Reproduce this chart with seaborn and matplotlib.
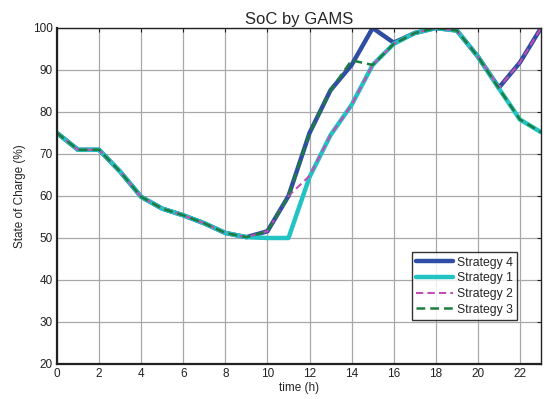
import matplotlib
matplotlib.use("Agg")
import matplotlib.pyplot as plt
import seaborn as sns
import pandas as pd

hours = list(range(24))
strategy4 = [75, 71, 71, 65.8, 59.8, 57, 55.4, 53.5, 51.2, 50.2, 51.6, 60, 75, 85.2, 91.2, 100, 96.5, 98.8, 100, 99.4, 93.2, 85.8, 91.8, 100]
strategy1 = [75, 71, 71, 65.8, 59.8, 57, 55.4, 53.5, 51.2, 50.2, 50, 50, 64.5, 74.5, 81.7, 91.2, 96.2, 98.8, 100, 99.4, 93.2, 85.6, 78.2, 75.2]
strategy2 = [75, 71, 71, 65.8, 59.8, 57, 55.4, 53.5, 51.2, 50.2, 51.6, 60, 64.8, 74.5, 81.7, 91.2, 96.2, 98.8, 100, 99.4, 93.2, 85.8, 91.8, 100]
strategy3 = [75, 71, 71, 65.8, 59.8, 57, 55.4, 53.5, 51.2, 50.2, 51.6, 60, 75, 85.2, 92.3, 91.2, 96.2, 98.8, 100, 99.4, 93.2, 85.6, 78.2, 75.2]
names = ["Strategy 4", "Strategy 1", "Strategy 2", "Strategy 3"]
colors = ["#2f4ea3", "#22c3c3", "#c24db3", "#1b7d3e"]
x_ticks = [0, 2, 4, 6, 8, 10, 12, 14, 16, 18, 20, 22]
y_ticks = [20, 30, 40, 50, 60, 70, 80, 90, 100]

sns.set_style("white")
plt.rcParams["font.family"] = ["Liberation Sans", "DejaVu Sans"]

fig = plt.figure(figsize=(5.53, 3.99), dpi=100)
ax = fig.add_axes([57/553, 1-364/399, (541-57)/553, (364-28)/399])

series = [strategy4, strategy1, strategy2, strategy3]
styles = [("-", 3.2), ("-", 3.2), ((0, (3.5, 2)), 1.5), ((0, (3.5, 2)), 1.8)]
for name, vals, col, (ls, lw) in zip(names, series, colors, styles):
    df = pd.DataFrame({"time": hours, "soc": vals})
    sns.lineplot(data=df, x="time", y="soc", ax=ax, color=col, linewidth=lw,
                 linestyle=ls, label=name)

ax.set_xlim(0, 23)
ax.set_ylim(20, 100)
ax.set_xticks(x_ticks)
ax.set_yticks(y_ticks)
ax.grid(True, color="#a8a8a8", linewidth=0.9)
ax.set_axisbelow(True)
for s in ax.spines.values():
    s.set_color("#222222")
    s.set_linewidth(1.0)
ax.spines["left"].set_linewidth(1.6)
ax.spines["bottom"].set_linewidth(1.6)
ax.tick_params(direction="in", length=3, width=0.8, labelsize=8.5, top=True, right=True, colors="#222222", pad=3)
ax.set_xlabel("time (h)", fontsize=8.5, labelpad=1)
ax.set_ylabel("State of Charge (%)", fontsize=8.5, labelpad=5)
ax.set_title("SoC by GAMS", fontsize=12, pad=3)

leg = ax.legend(loc="lower right", bbox_to_anchor=((517-57)/484, (364-320)/336), fontsize=8.8,
                frameon=True, fancybox=False, edgecolor="#000000", handlelength=3.0,
                borderpad=0.35, labelspacing=0.3, handletextpad=0.35, borderaxespad=0)
leg.get_frame().set_linewidth(1.0)

fig.savefig("out.png", dpi=100)
